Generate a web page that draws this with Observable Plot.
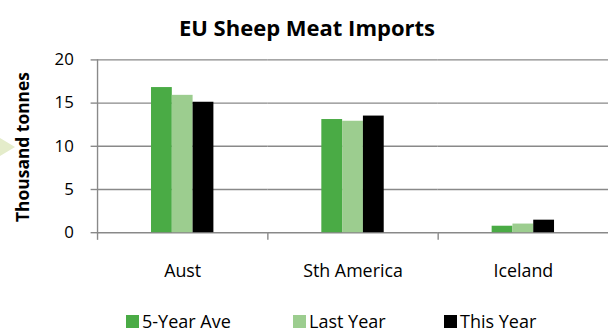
<!DOCTYPE html>
<html>
<head>
<meta charset="utf-8">
<script src="https://cdn.jsdelivr.net/npm/d3@7"></script>
<script src="https://cdn.jsdelivr.net/npm/@observablehq/plot@0.6"></script>
<style>
  html, body { margin: 0; padding: 0; overflow: hidden; background: #fff; }
  body { width: 608px; height: 334px; position: relative; font-family: "Open Sans", Lato, sans-serif; color: #000; }
  #chart { position: absolute; left: 0; top: 0; }
  #title { position: absolute; left: 0; width: 614px; top: 14px; text-align: center; font-weight: bold; font-size: 22px; line-height: 26px; }
  #ylabel { position: absolute; left: 22px; top: 147px; transform: translate(-50%, -50%) rotate(-90deg); white-space: nowrap; font-weight: bold; font-size: 17.4px; line-height: 18px; }
  #arrow { position: absolute; left: 0; top: 138px; width: 0; height: 0; border-top: 9px solid transparent; border-bottom: 9px solid transparent; border-left: 15px solid #e4ecca; }
  .leg { position: absolute; top: 311px; font-size: 18px; line-height: 20px; white-space: nowrap; }
  .leg span.sw { display: inline-block; width: 13px; height: 13px; margin-right: 3px; vertical-align: 0; }
</style>
</head>
<body>
<div id="chart"></div>
<div id="title">EU Sheep Meat Imports</div>
<div id="ylabel">Thousand tonnes</div>
<div id="arrow"></div>
<div id="legend"></div>
<script>
const categories = ["Aust", "Sth America", "Iceland"];
const series = ["5-Year Ave", "Last Year", "This Year"];
const fiveYearAve = [16.8, 13.1, 0.75];
const lastYear = [15.9, 12.9, 1.0];
const thisYear = [15.1, 13.5, 1.45];
const yTicks = [0, 5, 10, 15, 20];
const colors = ["#4aab45", "#9ccd8f", "#000000"];
const legendLeft = [126, 293, 444];

const valuesBySeries = [fiveYearAve, lastYear, thisYear];
const data = [];
categories.forEach((c, i) => {
  series.forEach((s, j) => data.push({category: c, series: s, value: valuesBySeries[j][i]}));
});

const gridColor = "#898989";

const chart = Plot.plot({
  width: 614,
  height: 300,
  marginTop: 60,
  marginBottom: 65.5,
  marginLeft: 97.5,
  marginRight: 0,
  style: {fontFamily: "'Open Sans', Lato, sans-serif", fontSize: "17px", color: "#000", background: "#fff"},
  fx: {domain: categories, padding: 0, label: null},
  x: {domain: series, paddingInner: 0, paddingOuter: 2.52, axis: null},
  y: {domain: [0, 20], label: null},
  color: {domain: series, range: colors},
  marks: [
    Plot.ruleY(yTicks, {stroke: gridColor, strokeWidth: 1.4}),
    Plot.barY(data, {fx: "category", x: "series", y: "value", fill: "series", inset: 0}),
    Plot.axisY({ticks: yTicks, tickSize: 6.5, tickPadding: 17.5, stroke: gridColor, strokeWidth: 1.4, fill: "#000", label: null, fontSize: 17}),
    Plot.frame({anchor: "left", facetAnchor: "left", stroke: gridColor, strokeWidth: 1.4}),
    Plot.frame({anchor: "left", stroke: gridColor, strokeWidth: 1.4, insetTop: 174.5, insetBottom: -6.5}),
    Plot.axisFx({anchor: "bottom", tickSize: 0, tickPadding: 32, label: null, fontSize: 18, fill: "#000"})
  ]
});
document.getElementById("chart").appendChild(chart);

const legend = document.getElementById("legend");
series.forEach((s, i) => {
  const d = document.createElement("div");
  d.className = "leg";
  d.style.left = legendLeft[i] + "px";
  const sw = document.createElement("span");
  sw.className = "sw";
  sw.style.background = colors[i];
  d.appendChild(sw);
  d.appendChild(document.createTextNode(s));
  legend.appendChild(d);
});
</script>
</body>
</html>
